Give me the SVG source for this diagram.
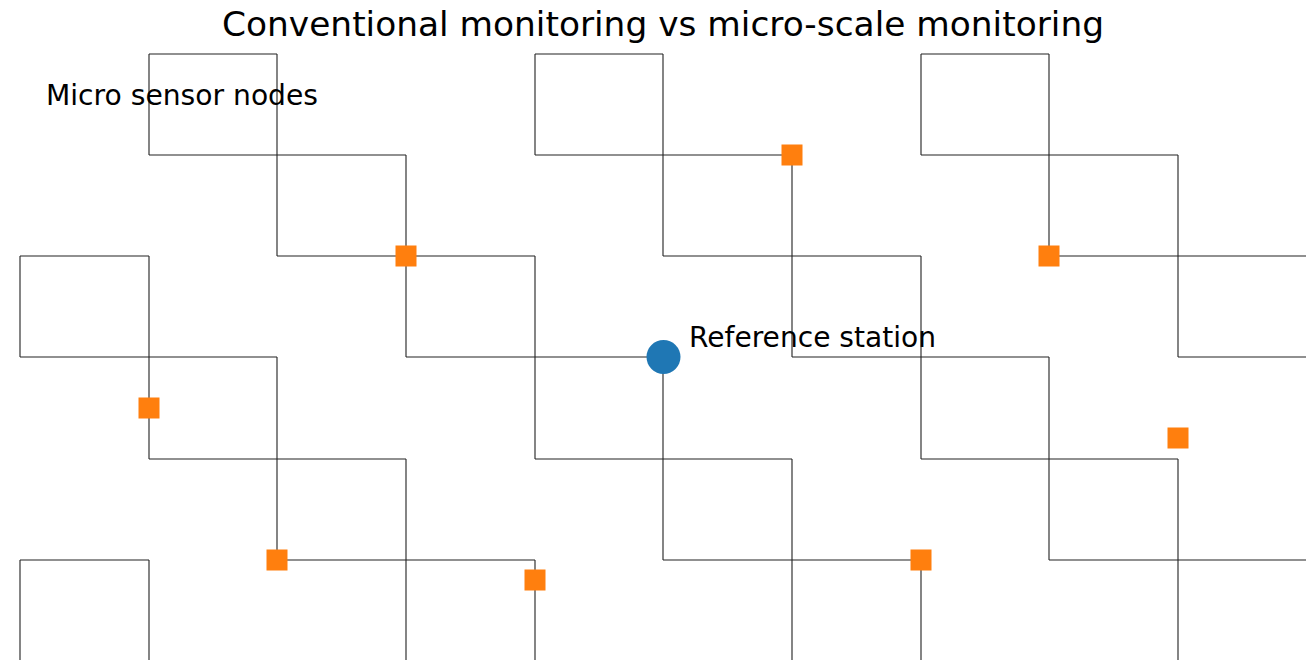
<svg xmlns="http://www.w3.org/2000/svg" width="1312" height="660" viewBox="0 0 1312 660">
<style>
  .street { fill: none; stroke: #222; stroke-width: 1.1; stroke-linecap: butt; }
  .sensor { fill: #ff7f0e; }
  .station { fill: #1f77b4; }
  .lbl { font-family: "DejaVu Sans", "Liberation Sans", sans-serif; fill: #000; }
</style>
<rect width="1312" height="660" fill="#fff"/>
<text class="lbl" x="663" y="36" font-size="34.4" text-anchor="middle" textLength="882" lengthAdjust="spacingAndGlyphs">Conventional monitoring vs micro-scale monitoring</text>
<g id="connectors">
  <path class="street" d="
    M149,54 H277 M535,54 H663 M921,54 H1049
    M149,155 H406 M535,155 H792 M921,155 H1178
    M20,256 H149 M277,256 H535 M663,256 H921 M1049,256 H1306
    M20,357 H277 M406,357 H663 M792,357 H1049 M1178,357 H1306
    M149,459 H406 M535,459 H792 M921,459 H1178
    M20,560 H149 M277,560 H535 M663,560 H921 M1049,560 H1306
    M20,256 V357 M20,560 V660
    M149,54 V155 M149,256 V459 M149,560 V660
    M277,54 V256 M277,357 V560
    M406,155 V357 M406,459 V660
    M535,54 V155 M535,256 V459 M535,560 V660
    M663,54 V256 M663,357 V560
    M792,155 V357 M792,459 V660
    M921,54 V155 M921,256 V459 M921,560 V660
    M1049,54 V256 M1049,357 V560
    M1178,155 V357 M1178,459 V660"/>
</g>
<g id="sensor-label"><text class="lbl" x="46" y="104.5" font-size="28.2" textLength="272" lengthAdjust="spacingAndGlyphs">Micro sensor nodes</text></g>
<g id="sensor-1"><rect class="sensor" x="395.5" y="245.5" width="21" height="21"/></g>
<g id="sensor-2"><rect class="sensor" x="781.5" y="144.5" width="21" height="21"/></g>
<g id="sensor-3"><rect class="sensor" x="1038.5" y="245.5" width="21" height="21"/></g>
<g id="sensor-4"><rect class="sensor" x="138.5" y="397.5" width="21" height="21"/></g>
<g id="sensor-5"><rect class="sensor" x="266.5" y="549.5" width="21" height="21"/></g>
<g id="sensor-6"><rect class="sensor" x="524.5" y="569.5" width="21" height="21"/></g>
<g id="sensor-7"><rect class="sensor" x="910.5" y="549.5" width="21" height="21"/></g>
<g id="sensor-8"><rect class="sensor" x="1167.5" y="427.5" width="21" height="21"/></g>
<g id="reference-station">
  <circle class="station" cx="663.5" cy="357" r="17"/>
  <text class="lbl" x="689" y="347" font-size="28.2" textLength="247" lengthAdjust="spacingAndGlyphs">Reference station</text>
</g>
</svg>
